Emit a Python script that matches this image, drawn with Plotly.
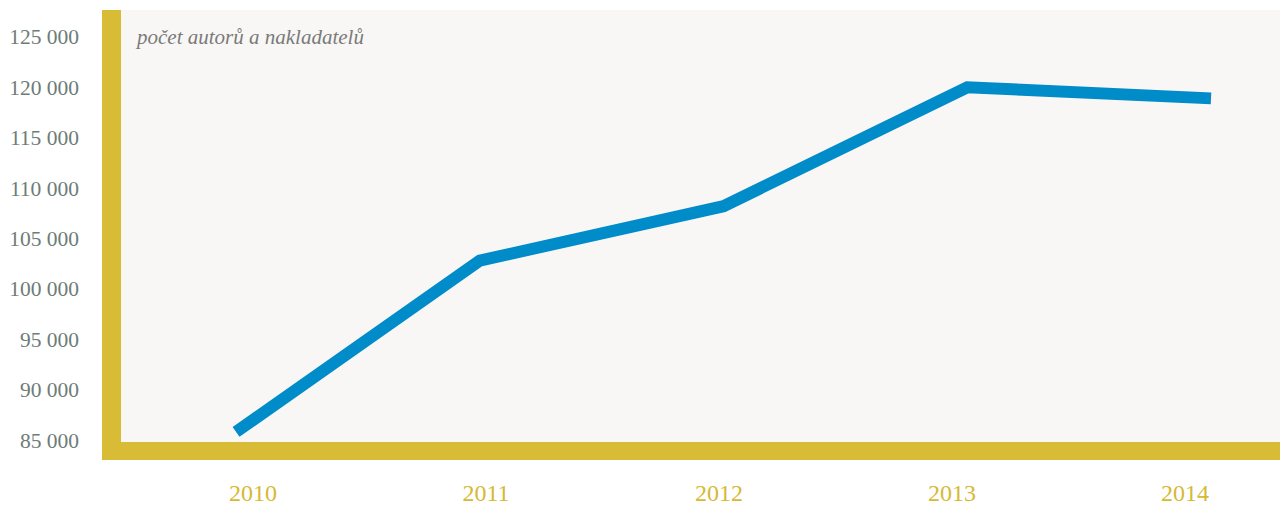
import plotly.graph_objects as go

years = [2010, 2011, 2012, 2013, 2014]
values = [85800, 102800, 108200, 120000, 118900]
y_ticks = [85000, 90000, 95000, 100000, 105000, 110000, 115000, 120000, 125000]
x_labels = ["2010", "2011", "2012", "2013", "2014"]
title_text = "počet autorů a nakladatelů"

GOLD = "#d8bc36"
BLUE = "#008bc9"
FONT = "Liberation Serif"

fig = go.Figure()
fig.add_trace(go.Scatter(
    x=years, y=values, mode="lines",
    line=dict(color=BLUE, width=12),
    hoverinfo="skip", showlegend=False,
))
# invisible trace for label axis
fig.add_trace(go.Scatter(
    x=years, y=values, xaxis="x2", mode="lines",
    line=dict(color="rgba(0,0,0,0)", width=0),
    hoverinfo="skip", showlegend=False,
))

fig.update_layout(
    width=1280, height=506,
    margin=dict(l=121, r=0, t=10, b=62),
    paper_bgcolor="white",
    plot_bgcolor="#f8f7f5",
    separators=", ",
    xaxis=dict(
        range=[2009.528, 2014.283], showgrid=False, zeroline=False,
        showticklabels=False, ticks="", showline=False,
    ),
    xaxis2=dict(
        range=[2009.4335, 2014.4077], overlaying="x", side="bottom",
        anchor="y", showgrid=False, zeroline=False, showline=False,
        tickmode="array", tickvals=years, ticktext=x_labels, ticks="",
        tickfont=dict(family=FONT, size=24, color="#d6b935"),
        ticklabelstandoff=34,
    ),
    yaxis=dict(
        range=[84800, 127670], showgrid=False, zeroline=False, showline=False,
        tickmode="array", tickvals=y_ticks, tickformat=",d", ticks="",
        tickfont=dict(family=FONT, size=21.5, color="#6e7c77"),
        ticklabelstandoff=41,
    ),
    shapes=[
        dict(type="rect", xref="paper", yref="paper",
             x0=-0.01639, x1=0, y0=-0.04147, y1=1,
             fillcolor=GOLD, line=dict(width=0), layer="above"),
        dict(type="rect", xref="paper", yref="paper",
             x0=-0.01639, x1=1, y0=-0.04147, y1=0,
             fillcolor=GOLD, line=dict(width=0), layer="above"),
    ],
    annotations=[
        dict(text=title_text, xref="paper", yref="paper",
             x=0.0104, y=0.9378, xanchor="left", yanchor="middle",
             showarrow=False,
             font=dict(family=FONT, size=21, color="#7a7a7a", style="italic")),
    ],
)

fig.write_html(
    "out.html",
    config={"displayModeBar": False},
    post_script="document.body.style.margin='0';document.body.style.overflow='hidden';",
)
